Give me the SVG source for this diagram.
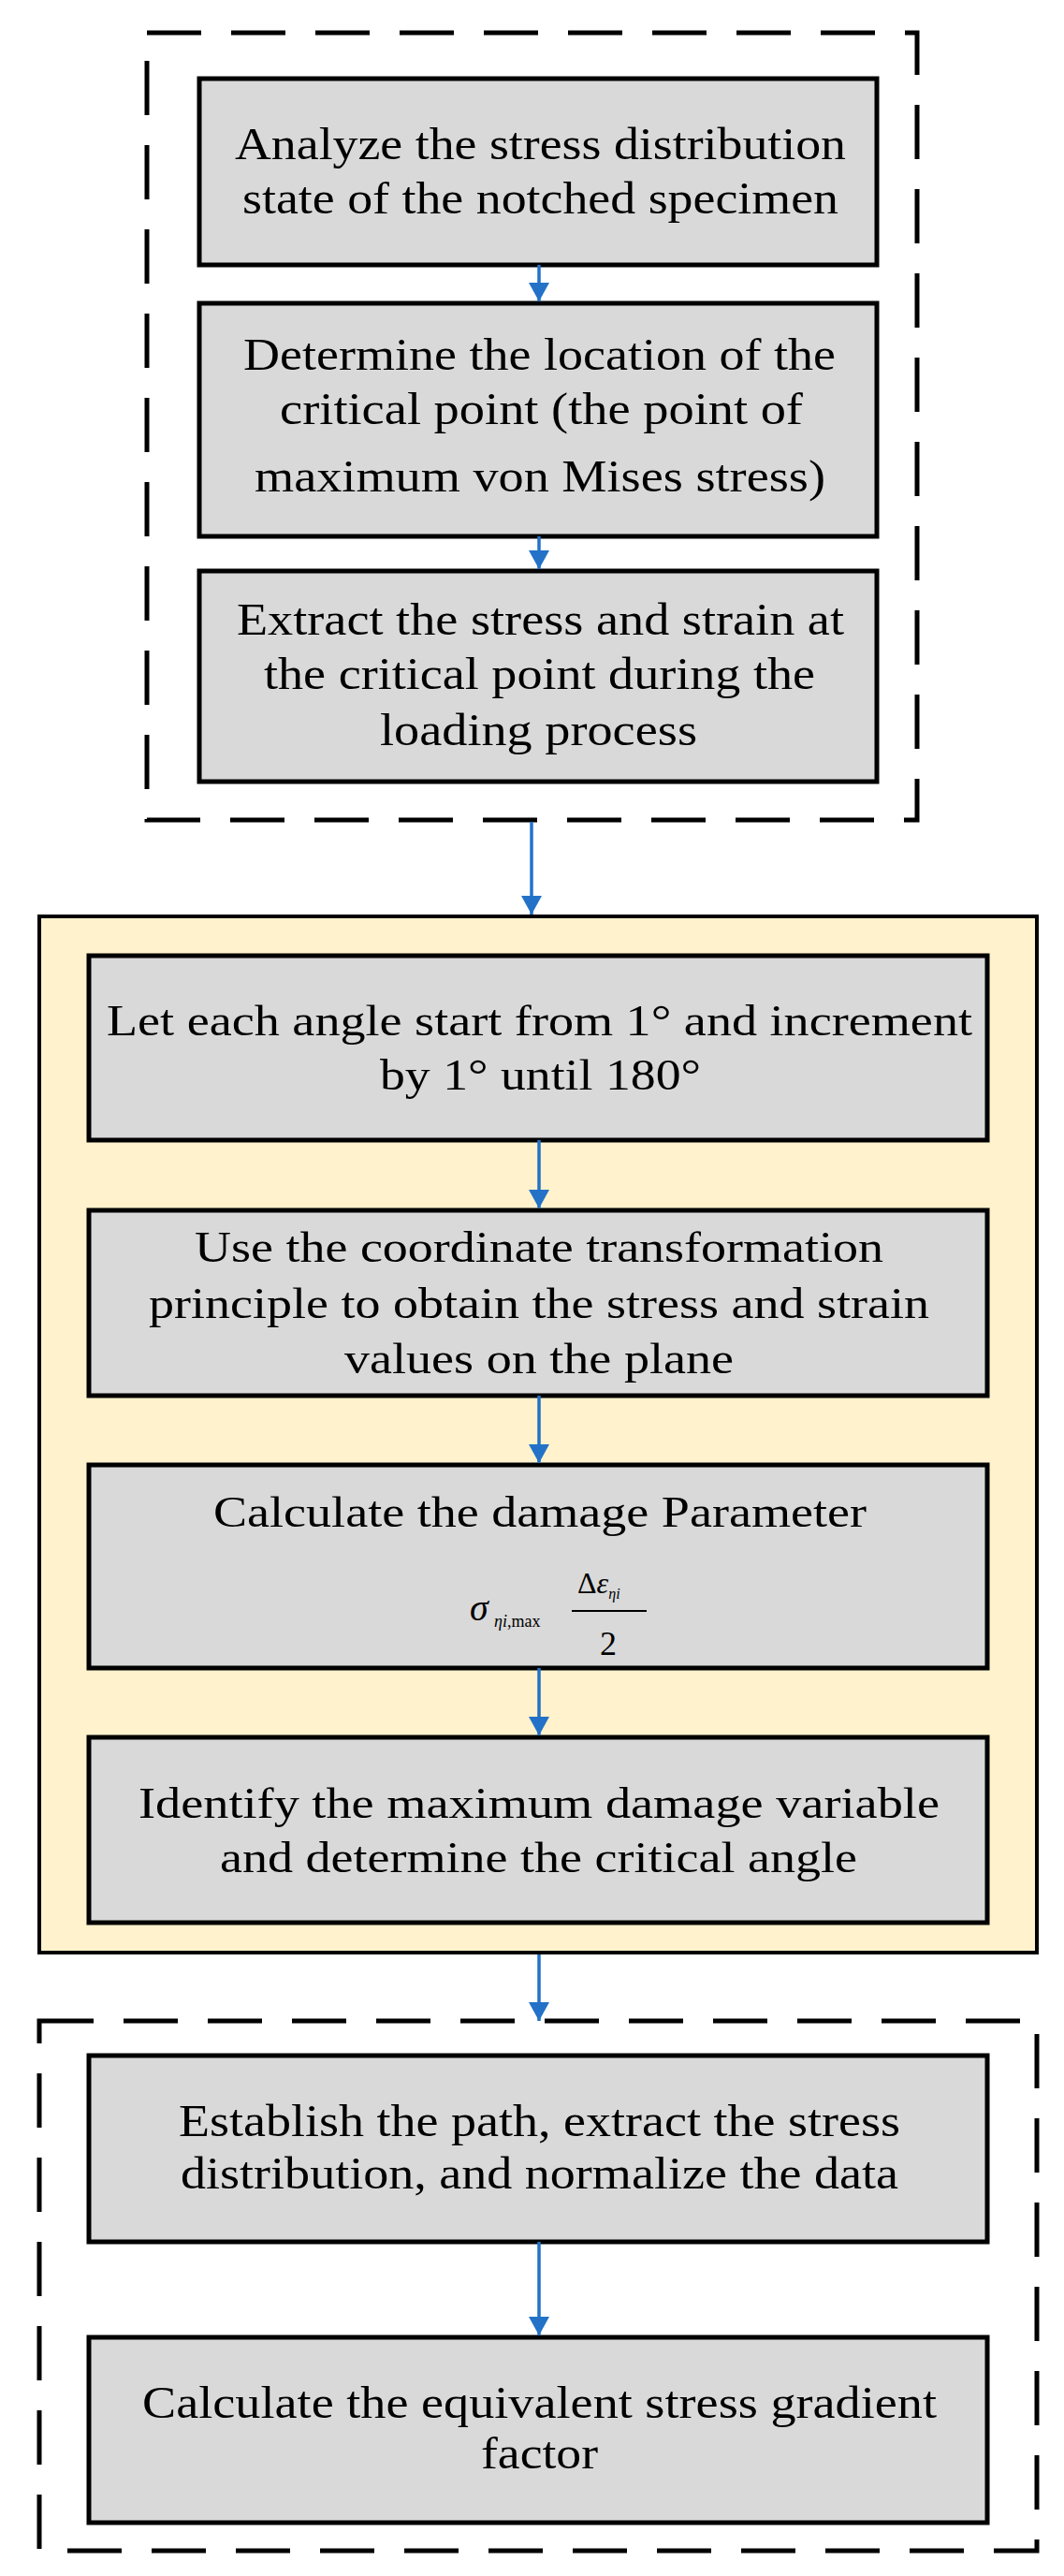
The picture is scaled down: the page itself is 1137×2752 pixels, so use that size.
<svg xmlns="http://www.w3.org/2000/svg" width="1137" height="2752" viewBox="0 0 1137 2752">
<style>
.box{fill:#d9d9d9;stroke:#000;stroke-width:5}
.dash{fill:none;stroke:#000;stroke-width:5;stroke-dasharray:58 32}
.t{font-family:"Liberation Serif","Times New Roman",serif;font-size:48px;fill:#000}
.w{font-size:46px}
.c{stroke:#2372c8;stroke-width:3.5;fill:none}
</style>
<defs><marker id="h" markerWidth="22" markerHeight="26" refX="20" refY="11" orient="auto" markerUnits="userSpaceOnUse"><path d="M0,0L20,11L0,22z" fill="#2372c8"/></marker></defs>
<g id="group-top"><rect class="dash" x="157" y="35" width="823" height="841"/></g>
<g id="group-mid"><rect x="42" y="979" width="1066" height="1107" fill="#fff2cc" stroke="#000" stroke-width="4"/></g>
<g id="group-bottom"><rect class="dash" x="42" y="2159" width="1066" height="566"/></g>
<g id="n1"><rect class="box" x="213" y="84" width="724" height="199"/>
<text class="t" x="251" y="170" textLength="653" lengthAdjust="spacingAndGlyphs">Analyze the stress distribution</text>
<text class="t" x="259" y="228" textLength="637" lengthAdjust="spacingAndGlyphs">state of the notched specimen</text></g>
<g id="n2"><rect class="box" x="213" y="324" width="724" height="249"/>
<text class="t" x="260" y="395" textLength="633" lengthAdjust="spacingAndGlyphs">Determine the location of the</text>
<text class="t" x="299" y="453" textLength="559" lengthAdjust="spacingAndGlyphs">critical point (the point of</text>
<text class="t" x="272" y="525" textLength="610" lengthAdjust="spacingAndGlyphs">maximum von Mises stress)</text></g>
<g id="n3"><rect class="box" x="213" y="610" width="724" height="225"/>
<text class="t" x="253" y="678" textLength="649" lengthAdjust="spacingAndGlyphs">Extract the stress and strain at</text>
<text class="t" x="282" y="736" textLength="589" lengthAdjust="spacingAndGlyphs">the critical point during the</text>
<text class="t" x="406" y="796" textLength="339" lengthAdjust="spacingAndGlyphs">loading process</text></g>
<g id="n4"><rect class="box" x="95" y="1021" width="960" height="197"/>
<text class="t w" x="114" y="1106" textLength="925" lengthAdjust="spacingAndGlyphs">Let each angle start from 1° and increment</text>
<text class="t w" x="406" y="1164" textLength="343" lengthAdjust="spacingAndGlyphs">by 1° until 180°</text></g>
<g id="n5"><rect class="box" x="95" y="1293" width="960" height="198"/>
<text class="t w" x="208" y="1348" textLength="736" lengthAdjust="spacingAndGlyphs">Use the coordinate transformation</text>
<text class="t w" x="159" y="1408" textLength="834" lengthAdjust="spacingAndGlyphs">principle to obtain the stress and strain</text>
<text class="t w" x="368" y="1467" textLength="416" lengthAdjust="spacingAndGlyphs">values on the plane</text></g>
<g id="n6"><rect class="box" x="95" y="1565" width="960" height="217"/>
<text class="t w" x="228" y="1631" textLength="698" lengthAdjust="spacingAndGlyphs">Calculate the damage Parameter</text>
<text class="t" x="502" y="1731" style="font-size:40px;font-style:italic">σ</text>
<text class="t" x="528" y="1738" style="font-size:18px"><tspan font-style="italic">ηi</tspan>,max</text>
<text class="t" x="617" y="1702" style="font-size:32px">Δ<tspan font-style="italic">ε</tspan><tspan style="font-size:16px;font-style:italic" dy="6">ηi</tspan></text>
<line x1="611" y1="1721" x2="691" y2="1721" stroke="#000" stroke-width="2"/>
<text class="t" x="641" y="1768" style="font-size:36px">2</text></g>
<g id="n7"><rect class="box" x="95" y="1856" width="960" height="198"/>
<text class="t w" x="148" y="1942" textLength="856" lengthAdjust="spacingAndGlyphs">Identify the maximum damage variable</text>
<text class="t w" x="235" y="2000" textLength="681" lengthAdjust="spacingAndGlyphs">and determine the critical angle</text></g>
<g id="n8"><rect class="box" x="95" y="2196" width="960" height="199"/>
<text class="t" x="191" y="2282" textLength="771" lengthAdjust="spacingAndGlyphs">Establish the path, extract the stress</text>
<text class="t" x="193" y="2338" textLength="767" lengthAdjust="spacingAndGlyphs">distribution, and normalize the data</text></g>
<g id="n9"><rect class="box" x="95" y="2497" width="960" height="198"/>
<text class="t" x="152" y="2583" textLength="849" lengthAdjust="spacingAndGlyphs">Calculate the equivalent stress gradient</text>
<text class="t" x="514" y="2637" textLength="125" lengthAdjust="spacingAndGlyphs">factor</text></g>
<g id="connectors">
<line class="c" x1="576" y1="283" x2="576" y2="322" marker-end="url(#h)"/>
<line class="c" x1="576" y1="573" x2="576" y2="608" marker-end="url(#h)"/>
<line class="c" x1="568" y1="878" x2="568" y2="977" marker-end="url(#h)"/>
<line class="c" x1="576" y1="1218" x2="576" y2="1291" marker-end="url(#h)"/>
<line class="c" x1="576" y1="1491" x2="576" y2="1563" marker-end="url(#h)"/>
<line class="c" x1="576" y1="1782" x2="576" y2="1854" marker-end="url(#h)"/>
<line class="c" x1="576" y1="2088" x2="576" y2="2159" marker-end="url(#h)"/>
<line class="c" x1="576" y1="2395" x2="576" y2="2495" marker-end="url(#h)"/>
</g>
</svg>
